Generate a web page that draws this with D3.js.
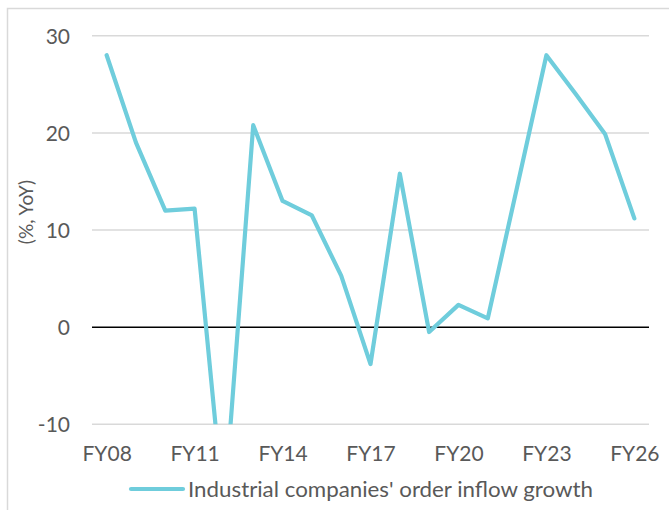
<!DOCTYPE html>
<html>
<head>
<meta charset="utf-8">
<script src="https://cdn.jsdelivr.net/npm/d3@7"></script>
<style>
  html, body { margin: 0; padding: 0; background: #fff; }
  svg { display: block; }
  text { font-family: Lato, "Open Sans", sans-serif; fill: #595959; }
</style>
</head>
<body>
<svg id="chart" width="669" height="510"></svg>
<script>
// Fiscal years and year-on-year order inflow growth (%)
const years = ["FY08","FY09","FY10","FY11","FY12","FY13","FY14","FY15","FY16","FY17",
               "FY18","FY19","FY20","FY21","FY22","FY23","FY24","FY25","FY26"];
const growth = [28, 19, 12, 12.2, -19, 20.8, 13, 11.5, 5.3, -3.8,
                15.8, -0.5, 2.3, 0.9, 14.4, 28, 24, 19.9, 11.2];
const xTickLabels = ["FY08","FY11","FY14","FY17","FY20","FY23","FY26"];
const yTicks = [-10, 0, 10, 20, 30];
const seriesName = "Industrial companies' order inflow growth";
const yTitle = "(%, YoY)";

const svg = d3.select("#chart");
const W = 669, H = 510;
const plot = { left: 92, right: 649, top: 35.8, bottom: 424.3 };

// outer chart frame
svg.append("rect")
  .attr("x", 7.5).attr("y", 8.5)
  .attr("width", W + 10).attr("height", H + 10)
  .attr("fill", "none").attr("stroke", "#d9d9d9").attr("stroke-width", 1.5);

const x = d3.scalePoint().domain(years).range([plot.left, plot.right]).padding(0.5);
const y = d3.scaleLinear().domain([-10, 30]).range([plot.bottom, plot.top]);

// horizontal gridlines
svg.append("g")
  .selectAll("line")
  .data(yTicks.filter(v => v !== 0))
  .join("line")
  .attr("x1", plot.left).attr("x2", plot.right)
  .attr("y1", d => y(d)).attr("y2", d => y(d))
  .attr("stroke", "#d9d9d9").attr("stroke-width", 1.5);

// y axis labels (plain hyphen for negatives)
const yAxis = d3.axisLeft(y).tickValues(yTicks).tickSize(0).tickPadding(0).tickFormat(d => String(d));
svg.append("g")
  .attr("transform", `translate(${plot.left - 22},0)`)
  .call(yAxis)
  .call(g => g.select(".domain").remove())
  .selectAll("text")
  .attr("font-size", 21)
  .attr("font-family", "Lato, sans-serif")
  .attr("fill", "#595959")
  .attr("dy", "0.36em");

// x axis labels
const xAxis = d3.axisBottom(x).tickValues(xTickLabels).tickSize(0).tickPadding(0);
svg.append("g")
  .attr("transform", `translate(0,${plot.bottom + 22})`)
  .call(xAxis)
  .call(g => g.select(".domain").remove())
  .selectAll("text")
  .attr("font-size", 21)
  .attr("font-family", "Lato, sans-serif")
  .attr("fill", "#595959")
  .attr("dy", "0.72em");

// y axis title
svg.append("text")
  .attr("transform", `translate(33,212) rotate(-90)`)
  .attr("text-anchor", "middle")
  .attr("font-size", 19)
  .text(yTitle);

// zero line
svg.append("line")
  .attr("x1", plot.left).attr("x2", plot.right)
  .attr("y1", y(0)).attr("y2", y(0))
  .attr("stroke", "#000").attr("stroke-width", 1.5);

// data line, clipped to the plot area
svg.append("clipPath").attr("id", "plotClip")
  .append("rect")
  .attr("x", plot.left).attr("y", plot.top - 20)
  .attr("width", plot.right - plot.left).attr("height", plot.bottom - plot.top + 20);

const line = d3.line()
  .x((d, i) => x(years[i]))
  .y(d => y(d));

svg.append("path")
  .datum(growth)
  .attr("clip-path", "url(#plotClip)")
  .attr("d", line)
  .attr("fill", "none")
  .attr("stroke", "#6fcddc")
  .attr("stroke-width", 4.2)
  .attr("stroke-linejoin", "round")
  .attr("stroke-linecap", "round");

// legend
const lg = svg.append("g").attr("transform", "translate(0,489)");
lg.append("line")
  .attr("x1", 131).attr("x2", 183)
  .attr("stroke", "#6fcddc").attr("stroke-width", 4.2)
  .attr("stroke-linecap", "round");
lg.append("text")
  .attr("x", 188).attr("dy", "0.36em")
  .attr("font-size", 22)
  .attr("textLength", 405)
  .attr("lengthAdjust", "spacingAndGlyphs")
  .text(seriesName);
</script>
</body>
</html>
